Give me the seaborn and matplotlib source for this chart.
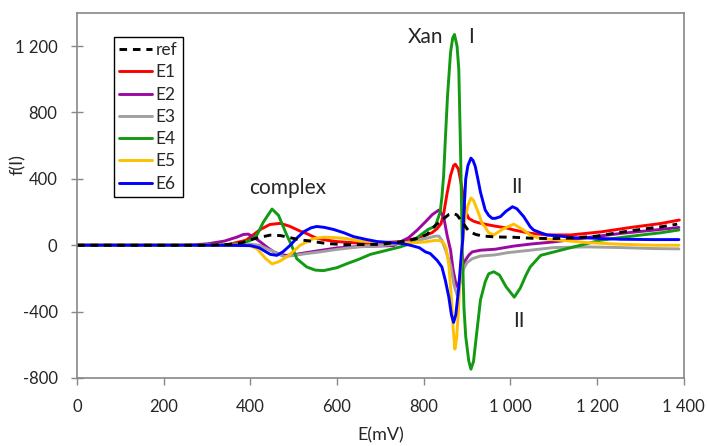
import matplotlib
matplotlib.use("Agg")
import matplotlib.pyplot as plt
from matplotlib.ticker import FixedLocator, FuncFormatter
from matplotlib.lines import Line2D
import seaborn as sns

# ---- data: potential E (mV) and f(I) for each curve ----
ref_E = [0, 300, 350, 380, 415, 446, 470, 484, 515, 530, 577, 615, 700, 760, 790, 808, 827,
         846, 858, 869, 877, 889, 904, 920, 935, 965, 1008, 1050, 1100, 1150, 1200, 1254,
         1300, 1350, 1385]
ref_f = [0, 0, 5, 15, 44, 61, 58, 50, 32, 28, 10, 4, 5, 25, 45, 65, 120,
         160, 185, 192, 182, 140, 85, 65, 56, 50, 48, 42, 40, 45, 55, 78,
         95, 112, 127]

e1_E = [0, 300, 350, 390, 423, 445, 469, 490, 515, 530, 553, 577, 600, 654, 700, 746, 780,
        808, 819, 831, 840, 846, 854, 862, 869, 873, 880, 889, 895, 904, 915, 927, 945,
        965, 990, 1008, 1046, 1085, 1139, 1208, 1277, 1347, 1390]
e1_f = [0, 0, 5, 30, 95, 125, 132, 115, 85, 70, 42, 30, 22, 12, 15, 22, 40,
        65, 75, 100, 130, 190, 313, 420, 480, 488, 460, 333, 212, 162, 145, 135, 125,
        115, 105, 92, 72, 62, 62, 80, 107, 131, 152]

e2_E = [0, 250, 300, 340, 370, 384, 395, 410, 423, 440, 454, 470, 484, 505, 530, 560, 600,
        650, 731, 746, 765, 785, 804, 820, 835, 846, 854, 862, 868, 875, 879, 888, 896,
        904, 912, 931, 965, 1008, 1050, 1100, 1177, 1254, 1331, 1389]
e2_f = [0, 0, 8, 25, 50, 65, 67, 45, 20, -15, -40, -57, -61, -55, -44, -32, -16,
        -8, -2, 20, 45, 91, 141, 185, 212, 172, 60, -30, -150, -240, -253, -152, -91,
        -60, -40, -30, -24, -5, 8, 20, 46, 71, 91, 107]

e3_E = [0, 300, 350, 390, 420, 450, 477, 500, 530, 561, 600, 650, 700, 746, 780, 804, 827,
        835, 842, 852, 862, 870, 877, 884, 892, 900, 912, 931, 965, 993, 1046, 1100,
        1177, 1254, 1331, 1389]
e3_f = [0, 0, 5, 10, 0, -35, -68, -62, -50, -40, -25, -10, -3, 10, 25, 40, 55,
        55, 30, -40, -120, -240, -300, -230, -141, -105, -81, -65, -58, -45, -30, -14,
        -10, -14, -20, -22]

e4_E = [0, 300, 370, 400, 415, 430, 450, 465, 484, 495, 507, 530, 550, 569, 600, 623, 650,
        677, 700, 746, 769, 792, 810, 827, 838, 842, 846, 850, 855, 862, 867, 871, 877,
        881, 885, 889, 893, 897, 904, 909, 915, 921, 931, 942, 950, 962, 975, 990, 1009,
        1023, 1036, 1046, 1070, 1116, 1162, 1208, 1254, 1300, 1347, 1389]
e4_f = [0, 0, 5, 30, 61, 140, 218, 180, 61, 0, -81, -131, -150, -153, -135, -111, -85,
        -55, -40, -10, 10, 60, 95, 115, 200, 290, 420, 640, 900, 1162, 1250, 1270, 1200,
        1060, 576, 0, -380, -550, -697, -747, -700, -560, -330, -220, -172, -160, -180,
        -250, -313, -258, -180, -130, -61, -30, 0, 30, 46, 61, 75, 92]

e5_E = [0, 300, 380, 400, 415, 435, 450, 465, 484, 500, 515, 530, 546, 570, 590, 623, 654,
        700, 746, 780, 804, 823, 835, 846, 852, 858, 864, 868, 872, 876, 880, 885, 890,
        895, 902, 909, 915, 927, 935, 942, 950, 962, 985, 1008, 1031, 1046, 1070, 1116,
        1177, 1254, 1331, 1389]
e5_f = [0, 0, 0, -5, -20, -80, -112, -100, -71, -35, 0, 20, 40, 48, 47, 40, 25,
        18, 14, 15, 20, 28, 30, 15, -20, -120, -320, -500, -626, -560, -400, -150, 20,
        150, 240, 285, 270, 190, 130, 110, 75, 62, 101, 127, 91, 61, 40, 30,
        16, 6, 0, 0]

e6_E = [0, 300, 400, 420, 446, 461, 475, 492, 508, 523, 540, 553, 570, 592, 616, 638, 669,
        693, 746, 769, 790, 804, 815, 831, 842, 850, 858, 864, 869, 874, 881, 887, 890,
        893, 897, 902, 909, 914, 919, 925, 931, 942, 950, 958, 965, 977, 990, 1005, 1015,
        1031, 1046, 1054, 1070, 1085, 1116, 1146, 1177, 1254, 1331, 1389]
e6_f = [0, 0, -2, -15, -55, -61, -40, 0, 45, 81, 105, 113, 108, 95, 75, 52, 34,
        22, 12, 0, -15, -40, -50, -91, -131, -212, -313, -420, -465, -420, -253, -50, 30,
        200, 400, 480, 525, 510, 475, 400, 320, 212, 180, 162, 162, 172, 205, 232, 220,
        172, 111, 91, 75, 62, 55, 45, 44, 36, 34, 34]

labels = ["ref", "E1", "E2", "E3", "E4", "E5", "E6"]
x_ticks = [0, 200, 400, 600, 800, 1000, 1200, 1400]
y_ticks = [-800, -400, 0, 400, 800, 1200]

# ---- styling ----
sns.set_style("white")
plt.rcParams["font.family"] = ["Lato", "DejaVu Sans"]

colors = {"ref": "black", "E1": "#ff0000", "E2": "#9a0aa0", "E3": "#a0a0a0",
          "E4": "#139a13", "E5": "#ffc000", "E6": "#0000ff"}
series = {"ref": (ref_E, ref_f), "E1": (e1_E, e1_f), "E2": (e2_E, e2_f),
          "E3": (e3_E, e3_f), "E4": (e4_E, e4_f), "E5": (e5_E, e5_f),
          "E6": (e6_E, e6_f)}

fig = plt.figure(figsize=(7.07, 4.46), dpi=100)
ax = fig.add_axes([0.109, 0.1525, 0.858, 0.8185])

lw = 2.1
dash = (0, (2.6, 2.0))
for name in ["E1", "E2", "E3", "E4", "E5", "E6", "ref"]:
    xs, ys = series[name]
    ls = dash if name == "ref" else "-"
    sns.lineplot(x=xs, y=ys, ax=ax, color=colors[name], linewidth=lw,
                 linestyle=ls, estimator=None, sort=False, legend=False)

ax.set_xlim(0, 1400)
ax.set_ylim(-800, 1400)


def thousands(v, pos):
    return f"{int(v):,}".replace(",", " ")


ax.xaxis.set_major_locator(FixedLocator(x_ticks))
ax.yaxis.set_major_locator(FixedLocator(y_ticks))
ax.xaxis.set_major_formatter(FuncFormatter(thousands))
ax.yaxis.set_major_formatter(FuncFormatter(thousands))
ax.tick_params(axis="x", direction="out", length=5, width=1, color="#888888",
               labelsize=12, pad=10, bottom=True)
ax.tick_params(axis="y", direction="inout", length=8, width=1, color="#888888",
               labelsize=12, pad=10, left=True)

for sp in ax.spines.values():
    sp.set_color("#888888")
    sp.set_linewidth(1.2)

ax.set_xlabel("E(mV)", fontsize=13, labelpad=9)
ax.set_ylabel("f(I)", fontsize=13)
ax.yaxis.set_label_coords(-0.085, 0.584)

# annotations
ax.text(804, 1255, "Xan", fontsize=15, ha="center", va="center")
ax.text(910, 1255, "I", fontsize=15, ha="center", va="center")
ax.text(1016, 352, "II", fontsize=15, ha="center", va="center")
ax.text(1019, -455, "II", fontsize=15, ha="center", va="center")
ax.text(485, 345, "complex", fontsize=15, ha="center", va="center")

handles = []
for name in labels:
    ls = dash if name == "ref" else "-"
    handles.append(Line2D([], [], color=colors[name], linewidth=lw, linestyle=ls))
leg = ax.legend(handles, labels, loc="upper left", bbox_to_anchor=(0.061, 0.934),
                fontsize=12.5, frameon=True, fancybox=False, edgecolor="black",
                framealpha=1, handlelength=1.9, handletextpad=0.2, labelspacing=0.36,
                borderpad=0.3, borderaxespad=0)
leg.get_frame().set_linewidth(1.0)

fig.savefig("out.png", dpi=100)
